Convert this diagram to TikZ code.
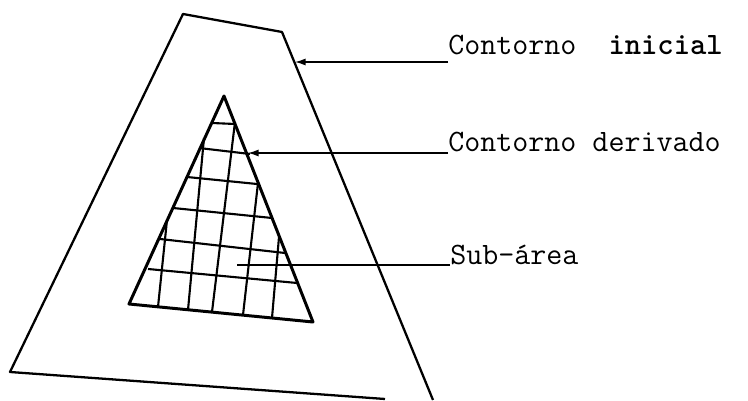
\documentclass[tikz,border=0pt]{standalone}
\usepackage{fontspec}
\usetikzlibrary{arrows.meta}

\begin{document}
\begin{tikzpicture}[
    x=0.02cm, y=-0.02cm,
    outer/.style={line width=1.3pt, line join=round},
    inner/.style={line width=1.7pt, line join=round},
    gridline/.style={line width=1.2pt},
    leader/.style={line width=0.8pt},
    pointer/.style={leader, -{Latex[length=6pt,width=4pt]}},
    lbl/.style={font=\fontsize{17.7}{20}\selectfont\ttfamily, inner sep=0pt, anchor=base west}
]
    \useasboundingbox (0,0) rectangle (748,401);

    % --- Contorno inicial ---
    \coordinate (o1) at (10,372);
    \coordinate (o2) at (183,14);
    \coordinate (o3) at (282,32);
    \draw[outer] (385,399) -- (o1) -- (o2) -- (o3) -- (433,400);

    % --- Contorno derivado (sub-area) ---
    \coordinate (t1) at (129,304);
    \coordinate (t2) at (224,96);
    \coordinate (t3) at (313,322);
    \draw[inner] (t1) -- (t2) -- (t3) -- cycle;

    % malha
    \foreach \xa/\ya/\xb/\yb in {212/123/235/124, 199/148/250/154, 187/177/257/184,
                                 173/208/272/218, 160/239/285/253, 148/269/297/283}
        \draw[gridline] (\xa,\ya) -- (\xb,\yb);
    \foreach \xa/\ya/\xb/\yb in {167/220/158/307, 204/138/188/310, 235/122/212/312,
                                 258/183/243/315, 279/237/272/318}
        \draw[gridline] (\xa,\ya) -- (\xb,\yb);

    % --- Legendas ---
    \coordinate (pI) at (295,62);
    \coordinate (pD) at (248,153);
    \coordinate (pS) at (237,265);

    \node[lbl] (inicial) at (448,55) {Contorno~~\textbf{inicial}};
    \node[lbl] (derivado) at (448,152) {Contorno derivado};
    \node[lbl] (subarea) at (450,265) {Sub-área};

    \draw[pointer] (inicial.base west |- pI) -- (pI);
    \draw[pointer] (derivado.base west |- pD) -- (pD);
    \draw[leader] (subarea.base west |- pS) -- (pS);

\end{tikzpicture}
\end{document}
